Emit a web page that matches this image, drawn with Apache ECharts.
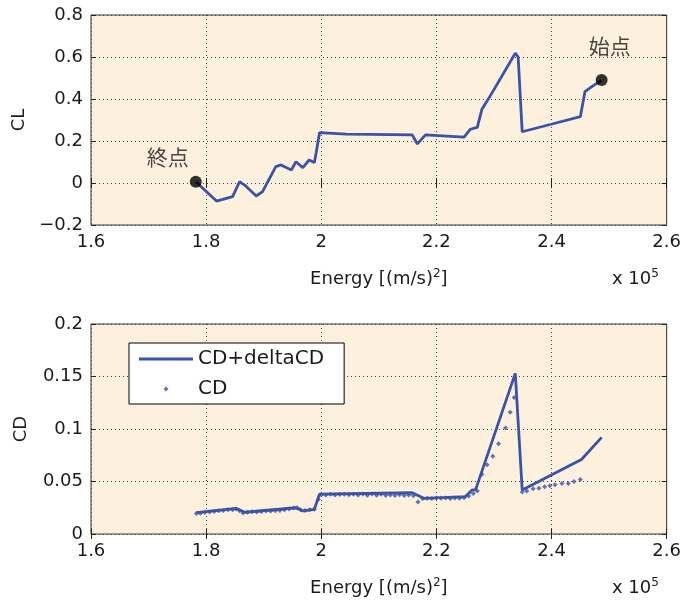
<!DOCTYPE html>
<html>
<head>
<meta charset="utf-8">
<script src="https://cdn.jsdelivr.net/npm/echarts@6/dist/echarts.min.js"></script>
<style>html,body{margin:0;padding:0;background:#fff;}#c{width:684px;height:605px;}</style>
</head>
<body>
<div id="c"></div>
<script>
// ---- data (energy in units of 1e5 (m/s)^2), ordered from 始点 to 終点 ----
var xTicks = [1.6, 1.8, 2.0, 2.2, 2.4, 2.6];
var clTicks = [-0.2, 0, 0.2, 0.4, 0.6, 0.8];
var cdTicks = [0, 0.05, 0.1, 0.15, 0.2];

var clEnergy = [2.487, 2.470, 2.458, 2.450, 2.401, 2.349, 2.342, 2.337, 2.291, 2.279, 2.271, 2.259, 2.248, 2.181, 2.167, 2.158, 2.043, 1.997, 1.991, 1.988, 1.979, 1.968, 1.956, 1.948, 1.930, 1.921, 1.898, 1.887, 1.867, 1.858, 1.846, 1.818, 1.782];
var clValues = [0.490, 0.459, 0.435, 0.316, 0.281, 0.244, 0.600, 0.618, 0.403, 0.351, 0.265, 0.256, 0.218, 0.229, 0.186, 0.229, 0.233, 0.240, 0.143, 0.097, 0.110, 0.073, 0.101, 0.062, 0.086, 0.078, -0.041, -0.062, -0.010, 0.006, -0.065, -0.086, 0.006];

var cdLineEnergy = [2.487, 2.452, 2.349, 2.337, 2.268, 2.262, 2.250, 2.178, 2.158, 1.997, 1.988, 1.968, 1.956, 1.867, 1.852, 1.783];
var cdLineValues = [0.092, 0.071, 0.042, 0.153, 0.042, 0.042, 0.0355, 0.034, 0.0393, 0.038, 0.0235, 0.022, 0.025, 0.0207, 0.0245, 0.0203];

var cdEnergy = [2.450, 2.439, 2.429, 2.418, 2.406, 2.397, 2.388, 2.378, 2.368, 2.357, 2.349, 2.335, 2.328, 2.320, 2.308, 2.298, 2.288, 2.279, 2.271, 2.264, 2.256, 2.248, 2.240, 2.232, 2.224, 2.216, 2.208, 2.200, 2.192, 2.184, 2.176, 2.168, 2.160, 2.152, 2.144, 2.136, 2.128, 2.120, 2.112, 2.104, 2.096, 2.088, 2.080, 2.072, 2.064, 2.056, 2.048, 2.040, 2.032, 2.024, 2.016, 2.008, 2.000, 1.995, 1.988, 1.980, 1.972, 1.964, 1.958, 1.952, 1.944, 1.936, 1.928, 1.920, 1.912, 1.904, 1.896, 1.888, 1.880, 1.872, 1.864, 1.858, 1.852, 1.846, 1.838, 1.830, 1.822, 1.814, 1.806, 1.798, 1.790, 1.783];
var cdValues = [0.052, 0.050, 0.048, 0.048, 0.047, 0.046, 0.045, 0.0435, 0.043, 0.041, 0.040, 0.130, 0.116, 0.101, 0.086, 0.074, 0.066, 0.057, 0.041, 0.0385, 0.0362, 0.0345, 0.0340, 0.0342, 0.0338, 0.0342, 0.0340, 0.0342, 0.0338, 0.0340, 0.0338, 0.0305, 0.0365, 0.0372, 0.0366, 0.0374, 0.0366, 0.0372, 0.0366, 0.0378, 0.0368, 0.0380, 0.0370, 0.0380, 0.0372, 0.0378, 0.0374, 0.0378, 0.0376, 0.0372, 0.0378, 0.0372, 0.0375, 0.0330, 0.0235, 0.0232, 0.0225, 0.0232, 0.0250, 0.0248, 0.0238, 0.0230, 0.0225, 0.0222, 0.0220, 0.0218, 0.0215, 0.0210, 0.0212, 0.0208, 0.0200, 0.0222, 0.0238, 0.0232, 0.0230, 0.0225, 0.0222, 0.0215, 0.0210, 0.0205, 0.0198, 0.0195];

var pointNames = ['始点', '終点'];
var legendNames = ['CD+deltaCD', 'CD'];

// ---- styling ----
var BLUE = '#3853a9';
var FONT = 'DejaVu Sans';
var TXT = '#1a1a1a';
var BG = '#fdf1dd';
var labelOffsets = [[8, -13], [-28, -3]];
var ICON_LINE = 'path://M0,0 M0,1.1 L54,1.1 L54,3.9 L0,3.9 Z M54,5';
var ICON_DIAMOND = 'path://M0,0 M27,0 L29.5,2.5 L27,5 L24.5,2.5 Z M54,5';
var SUP_RICH = {
  n: { fontFamily: FONT, fontSize: 18, color: TXT, fill: TXT, lineHeight: 23 },
  s: { fontFamily: FONT, fontSize: 12, color: TXT, fill: TXT, lineHeight: 12, verticalAlign: 'top' }
};

function pairs(xs, ys) { return xs.map(function (x, i) { return [x, ys[i]]; }); }

var clData = pairs(clEnergy, clValues);
var endPoints = [0, clEnergy.length - 1].map(function (idx, k) {
  return {
    value: [clEnergy[idx], clValues[idx]],
    name: pointNames[k],
    label: { offset: labelOffsets[k] }
  };
});

function fmtNum(v) { return String(+v.toFixed(4)).replace('-', '\u2212'); }

function xAxisMain(gi) {
  return {
    type: 'value', gridIndex: gi, min: xTicks[0], max: xTicks[xTicks.length - 1], interval: 0.2,
    position: 'bottom',
    name: '{n|Energy [(m/s)}{s|2}{n|]}', nameLocation: 'middle', nameGap: 43,
    nameTextStyle: { fontFamily: FONT, fontSize: 18, color: TXT, rich: SUP_RICH },
    axisLine: { show: false },
    axisTick: { inside: true, length: 5, lineStyle: { color: '#222' } },
    axisLabel: { margin: 8, fontFamily: FONT, fontSize: 18, color: TXT, formatter: fmtNum },
    splitLine: { show: true, lineStyle: { color: '#444', width: 1, type: [1, 3] } }
  };
}
function xAxisMirror(gi) {
  return {
    type: 'value', gridIndex: gi, min: xTicks[0], max: xTicks[xTicks.length - 1], interval: 0.2,
    position: 'top', axisLine: { show: false }, axisLabel: { show: false }, splitLine: { show: false },
    axisTick: { inside: true, length: 5, lineStyle: { color: '#222' } }
  };
}
function yAxisMain(gi, ticks, itv, name) {
  return {
    type: 'value', gridIndex: gi, min: ticks[0], max: ticks[ticks.length - 1], interval: itv,
    position: 'left',
    name: name, nameLocation: 'middle', nameGap: 61, nameRotate: 90,
    nameTextStyle: { fontFamily: FONT, fontSize: 18, color: TXT },
    axisLine: { show: false },
    axisTick: { inside: true, length: 5, lineStyle: { color: '#222' } },
    axisLabel: { margin: 8, fontFamily: FONT, fontSize: 18, color: TXT, formatter: fmtNum },
    splitLine: { show: true, lineStyle: { color: '#444', width: 1, type: [1, 3] } }
  };
}
function yAxisMirror(gi, ticks, itv) {
  return {
    type: 'value', gridIndex: gi, min: ticks[0], max: ticks[ticks.length - 1], interval: itv,
    position: 'right', axisLine: { show: false }, axisLabel: { show: false }, splitLine: { show: false },
    axisTick: { inside: true, length: 5, lineStyle: { color: '#222' } }
  };
}

var chart = echarts.init(document.getElementById('c'), null, { renderer: 'canvas' });
chart.setOption({
  backgroundColor: '#ffffff',
  animation: false,
  grid: [
    { left: 91, right: 15, top: 15, height: 210, show: true, backgroundColor: BG, borderColor: '#333', borderWidth: 1 },
    { left: 91, right: 15, top: 324, height: 210, show: true, backgroundColor: BG, borderColor: '#333', borderWidth: 1 }
  ],
  xAxis: [xAxisMain(0), xAxisMain(1), xAxisMirror(0), xAxisMirror(1)],
  yAxis: [
    yAxisMain(0, clTicks, 0.2, 'CL'),
    yAxisMain(1, cdTicks, 0.05, 'CD'),
    yAxisMirror(0, clTicks, 0.2),
    yAxisMirror(1, cdTicks, 0.05)
  ],
  legend: {
    left: 129, top: 343, orient: 'vertical',
    data: [
      { name: legendNames[0], icon: ICON_LINE, itemStyle: { color: BLUE, borderWidth: 0 } },
      { name: legendNames[1], icon: ICON_DIAMOND, itemStyle: { color: BLUE, borderWidth: 0 } }
    ],
    backgroundColor: '#ffffff', borderColor: '#000', borderWidth: 1,
    padding: [6, 20, 5, 10], itemGap: 10, itemWidth: 54, itemHeight: 5,
    textStyle: { fontFamily: FONT, fontSize: 20, color: TXT }
  },
  graphic: [
    { type: 'text', left: 612, top: 268, silent: true,
      style: { text: '{n|x 10}{s|5}', fontFamily: FONT, fontSize: 18, fill: TXT, rich: SUP_RICH } },
    { type: 'text', left: 612, top: 577, silent: true,
      style: { text: '{n|x 10}{s|5}', fontFamily: FONT, fontSize: 18, fill: TXT, rich: SUP_RICH } }
  ],
  series: [
    { name: 'CL', type: 'line', xAxisIndex: 0, yAxisIndex: 0, data: clData,
      symbol: 'none', lineStyle: { color: BLUE, width: 2.8 }, itemStyle: { color: BLUE } },
    { name: 'endpoints', type: 'scatter', xAxisIndex: 0, yAxisIndex: 0, data: endPoints,
      symbol: 'circle', symbolSize: 12, itemStyle: { color: '#000' }, z: 5,
      label: { show: true, position: 'top', distance: 5, formatter: '{b}',
        fontFamily: 'Noto Sans CJK JP', fontSize: 21, color: TXT } },
    { name: legendNames[0], type: 'line', xAxisIndex: 1, yAxisIndex: 1,
      data: pairs(cdLineEnergy, cdLineValues),
      symbol: 'none', lineStyle: { color: BLUE, width: 2.8 }, itemStyle: { color: BLUE } },
    { name: legendNames[1], type: 'scatter', xAxisIndex: 1, yAxisIndex: 1,
      data: pairs(cdEnergy, cdValues),
      symbol: 'diamond', symbolSize: 5, itemStyle: { color: BLUE } }
  ]
});
</script>
</body>
</html>
